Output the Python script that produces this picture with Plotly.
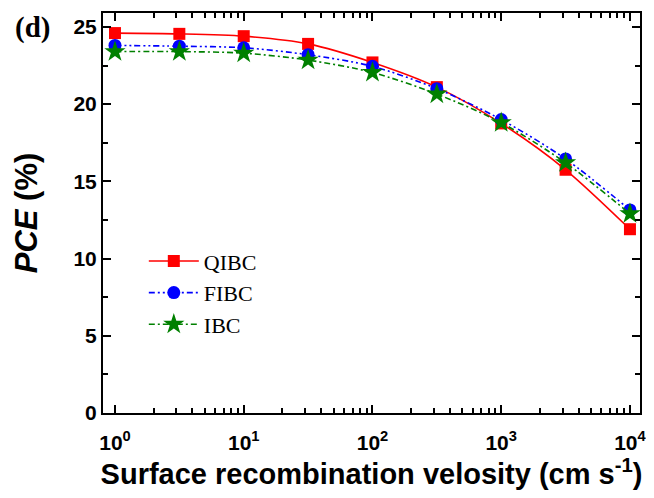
import plotly.graph_objects as go

velocity = [1, 3.162, 10, 31.62, 100, 316.2, 1000, 3162, 10000]
pce_qibc = [24.6, 24.55, 24.4, 23.9, 22.7, 21.1, 18.75, 15.75, 11.9]
pce_fibc = [23.8, 23.75, 23.65, 23.2, 22.45, 21.0, 19.0, 16.45, 13.15]
pce_ibc = [23.4, 23.4, 23.3, 22.85, 22.05, 20.65, 18.8, 16.2, 12.9]

x_major = [1, 10, 100, 1000, 10000]
x_major_text = ["10<sup>%d</sup>" % i for i in range(5)]
x_minor = [m * 10 ** d for d in range(4) for m in range(2, 10)]

fig = go.Figure()
series = [
    ("QIBC", pce_qibc, "#ff0000", "solid", "square", 12),
    ("FIBC", pce_fibc, "#0000ff", "6px,3px,2px,3px,2px,3px", "circle", 13),
    ("IBC", pce_ibc, "#008000", "6px,3px,2px,3px", "star", 16),
]
for name, vals, color, dash, sym, size in series:
    fig.add_trace(go.Scatter(
        x=velocity, y=vals, name=name, mode="lines+markers",
        line=dict(color=color, width=1.6, dash=dash, shape="spline", smoothing=0.8),
        marker=dict(symbol=sym, size=size, color=color, line=dict(width=0)),
    ))

tickfont = dict(family="Liberation Sans", size=21, color="black", weight="bold")
fig.update_xaxes(
    type="log", range=[-0.093, 4.078], automargin=False,
    tickvals=x_major, ticktext=x_major_text, tickfont=tickfont,
    ticks="inside", ticklen=8, tickwidth=2, tickcolor="black",
    ticklabelstandoff=10,
    showline=True, linewidth=2, linecolor="black", mirror="ticks",
    showgrid=False, zeroline=False,
    minor=dict(tickvals=x_minor, ticks="inside", ticklen=5, tickwidth=1.5,
               tickcolor="black", showgrid=False),
    title=dict(text="Surface recombination velosity (cm s<sup>-1</sup>)",
               font=dict(family="Liberation Sans", size=29, color="black", weight="bold"),
               standoff=4),
)
fig.update_yaxes(
    range=[0, 25.9], tickvals=[0, 5, 10, 15, 20, 25], tickfont=tickfont,
    automargin=False,
    ticks="inside", ticklen=8, tickwidth=2, tickcolor="black",
    showline=True, linewidth=2, linecolor="black", mirror="ticks",
    showgrid=False, zeroline=False,
    minor=dict(dtick=2.5, ticks="inside", ticklen=5, tickwidth=1.5,
               tickcolor="black", showgrid=False),
    title=dict(text="<i>PCE</i> (%)",
               font=dict(family="Liberation Sans", size=31, color="black", weight="bold"),
               standoff=27),
)

fig.add_annotation(
    text="<b>(d)</b>", xref="paper", yref="paper", x=-0.168, y=0.9625,
    xanchor="left", yanchor="middle", showarrow=False,
    font=dict(family="Liberation Serif", size=29, color="black"),
)

# page body adds an 8px offset, so the figure is sized to fit the window
fig.update_layout(
    width=646, height=490,
    margin=dict(l=95, r=14, t=5, b=85),
    paper_bgcolor="white", plot_bgcolor="white",
    legend=dict(x=0.076, y=0.432, xanchor="left", yanchor="top",
                font=dict(family="Liberation Serif", size=22, color="black"),
                bgcolor="rgba(0,0,0,0)", itemwidth=50, tracegroupgap=0),
    showlegend=True,
)

fig.write_html("out.html")
